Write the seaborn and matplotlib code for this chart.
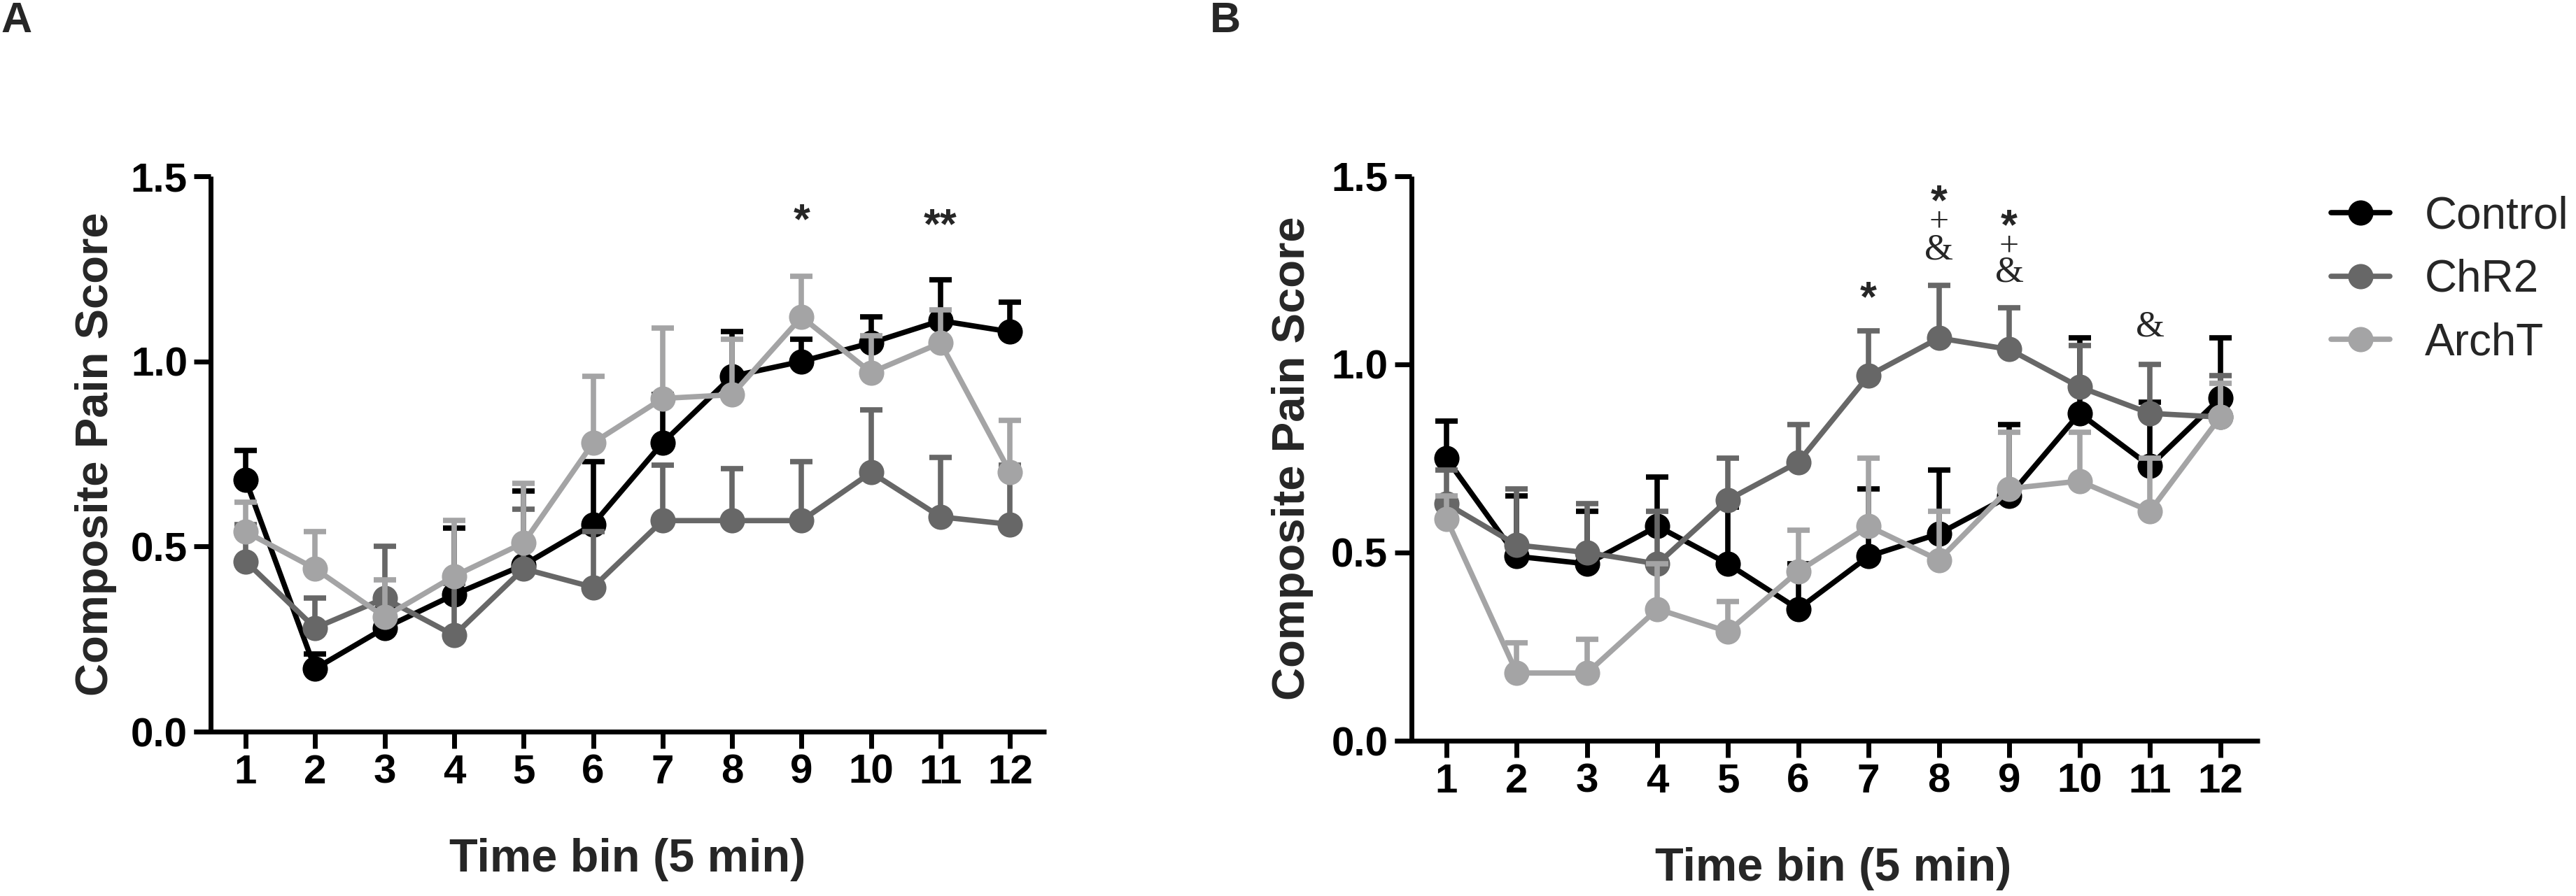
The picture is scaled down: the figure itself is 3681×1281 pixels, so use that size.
import numpy as np
import pandas as pd
import seaborn as sns
import matplotlib
matplotlib.use("Agg")
import matplotlib.pyplot as plt
from matplotlib.lines import Line2D

# ---- data ----
bins = list(range(1, 13))
groups = ["Control", "ChR2", "ArchT"]
colors = {"Control": "#000000", "ChR2": "#676767", "ArchT": "#a4a4a5"}

# panel A: mean and SEM per time bin
a_control = [0.68, 0.17, 0.28, 0.37, 0.45, 0.56, 0.78, 0.96, 1.00, 1.05, 1.11, 1.08]
a_control_sem = [0.08, 0.04, 0.05, 0.18, 0.20, 0.17, 0.13, 0.12, 0.06, 0.07, 0.11, 0.08]
a_chr2 = [0.46, 0.28, 0.36, 0.26, 0.44, 0.39, 0.57, 0.57, 0.57, 0.70, 0.58, 0.56]
a_chr2_sem = [0.10, 0.08, 0.14, 0.14, 0.16, 0.15, 0.15, 0.14, 0.16, 0.17, 0.16, 0.16]
a_archt = [0.54, 0.44, 0.31, 0.42, 0.51, 0.78, 0.90, 0.91, 1.12, 0.97, 1.05, 0.70]
a_archt_sem = [0.08, 0.10, 0.10, 0.15, 0.16, 0.18, 0.19, 0.15, 0.11, 0.10, 0.09, 0.14]

# panel B
b_control = [0.75, 0.49, 0.47, 0.57, 0.47, 0.35, 0.49, 0.55, 0.65, 0.87, 0.73, 0.91]
b_control_sem = [0.10, 0.16, 0.14, 0.13, 0.15, 0.12, 0.18, 0.17, 0.19, 0.20, 0.17, 0.16]
b_chr2 = [0.63, 0.52, 0.50, 0.47, 0.64, 0.74, 0.97, 1.07, 1.04, 0.94, 0.87, 0.86]
b_chr2_sem = [0.09, 0.15, 0.13, 0.14, 0.11, 0.10, 0.12, 0.14, 0.11, 0.11, 0.13, 0.11]
b_archt = [0.59, 0.18, 0.18, 0.35, 0.29, 0.45, 0.57, 0.48, 0.67, 0.69, 0.61, 0.86]
b_archt_sem = [0.06, 0.08, 0.09, 0.12, 0.08, 0.11, 0.18, 0.13, 0.15, 0.13, 0.14, 0.09]

# significance marks: (bin, y, text)
a_marks = [(9, 1.40, "*"), (11, 1.385, "**")]
b_marks = [(7, 1.195, "*"), (8, 1.45, "*"), (8, 1.365, "+"), (8, 1.295, "&"),
           (9, 1.385, "*"), (9, 1.30, "+"), (9, 1.235, "&"), (11, 1.09, "&")]

yticks = [0.0, 0.5, 1.0, 1.5]


def long_table(ctrl, ctrl_sem, chr2, chr2_sem, archt, archt_sem):
    rows = []
    for g, m, s in [("Control", ctrl, ctrl_sem), ("ChR2", chr2, chr2_sem),
                    ("ArchT", archt, archt_sem)]:
        for b, mv, sv in zip(bins, m, s):
            rows.append([g, b, mv, sv])
    return pd.DataFrame(rows, columns=["group", "bin", "score", "sem"])


df_a = long_table(a_control, a_control_sem, a_chr2, a_chr2_sem, a_archt, a_archt_sem)
df_b = long_table(b_control, b_control_sem, b_chr2, b_chr2_sem, b_archt, b_archt_sem)

sns.set_theme(style="ticks")
plt.rcParams["font.family"] = ["Liberation Sans", "DejaVu Sans"]

fig = plt.figure(figsize=(36.81, 12.81), dpi=100)
ax_a = fig.add_axes([0.07525, 0.18345, 0.3309, 0.6198])
ax_b = fig.add_axes([0.5414, 0.1733, 0.3358, 0.6300])

LW = 5.5
MS = 26
SERIF = ["Liberation Serif", "DejaVu Serif"]


def draw_panel(ax, df, marks, xlim):
    for i, g in enumerate(groups):
        sub = df[df["group"] == g]
        c = colors[g]
        eb = ax.errorbar(sub["bin"], sub["score"],
                         yerr=[np.zeros(len(sub)), sub["sem"]],
                         fmt="none", ecolor=c, elinewidth=LW, capsize=11.5,
                         capthick=LW, zorder=3 + 2 * i)
        # keep only the upper caps
        for cl in eb.lines[1]:
            if np.allclose(cl.get_ydata(), sub["score"].values):
                cl.remove()
        sns.lineplot(data=sub, x="bin", y="score", ax=ax, color=c,
                     marker="o", markersize=MS, markeredgewidth=0,
                     linewidth=LW, errorbar=None, legend=False,
                     zorder=4 + 2 * i, clip_on=False)

    for b, y, t in marks:
        if t in ("*", "**"):
            ax.annotate(t, (b, y), xytext=(0, -20), textcoords="offset points",
                        ha="center", va="baseline", fontsize=44,
                        fontweight="bold")
        elif t == "+":
            ax.annotate(t, (b, y), xytext=(0, -4), textcoords="offset points",
                        ha="center", va="baseline", fontsize=36, family=SERIF)
        else:
            ax.annotate(t, (b, y), xytext=(0, -6), textcoords="offset points",
                        ha="center", va="baseline", fontsize=38, family=SERIF)

    ax.set_xlim(*xlim)
    ax.set_ylim(0, 1.5)
    ax.set_xticks(bins)
    ax.set_xticklabels([str(b) for b in bins])
    ax.set_yticks(yticks)
    ax.set_yticklabels([f"{v:.1f}" for v in yticks])
    ax.spines["top"].set_visible(False)
    ax.spines["right"].set_visible(False)
    ax.spines["left"].set_position(("data", 0.5))
    for s in ["left", "bottom"]:
        ax.spines[s].set_linewidth(5)
        ax.spines[s].set_color("black")
        ax.spines[s].set_capstyle("butt")
    ax.tick_params(axis="both", length=17, width=5, color="black",
                   labelsize=42, labelcolor="black")
    ax.tick_params(axis="x", pad=6)
    ax.tick_params(axis="y", pad=7)
    for lab in ax.get_xticklabels() + ax.get_yticklabels():
        lab.set_fontweight("bold")
    ax.set_xlabel("Time bin (5 min)", fontsize=48, fontweight="bold")
    ax.set_ylabel("Composite Pain Score", fontsize=47, fontweight="bold")
    ax.grid(False)


draw_panel(ax_a, df_a, a_marks, (0.255, 12.52))
draw_panel(ax_b, df_b, b_marks, (0.264, 12.56))

ax_a.xaxis.set_label_coords(0.509, -0.191)
ax_a.yaxis.set_label_coords(-0.090, 0.50)
ax_b.xaxis.set_label_coords(0.507, -0.188)
ax_b.yaxis.set_label_coords(-0.094, 0.50)

handles = [Line2D([0], [0], color=colors[g], linewidth=LW, marker="o",
                  markersize=MS, markeredgewidth=0) for g in groups]
fig.legend(handles, groups, loc="upper left", bbox_to_anchor=(0.9049, 0.782),
           frameon=False, fontsize=46, borderpad=0, borderaxespad=0,
           handlelength=1.32, handletextpad=0.77, labelspacing=0.48)

fig.text(0.0005, 0.9641, "A", fontsize=44, fontweight="bold", va="baseline", ha="left")
fig.text(0.4697, 0.9641, "B", fontsize=44, fontweight="bold", va="baseline", ha="left")

fig.savefig("out.png", dpi=100)
